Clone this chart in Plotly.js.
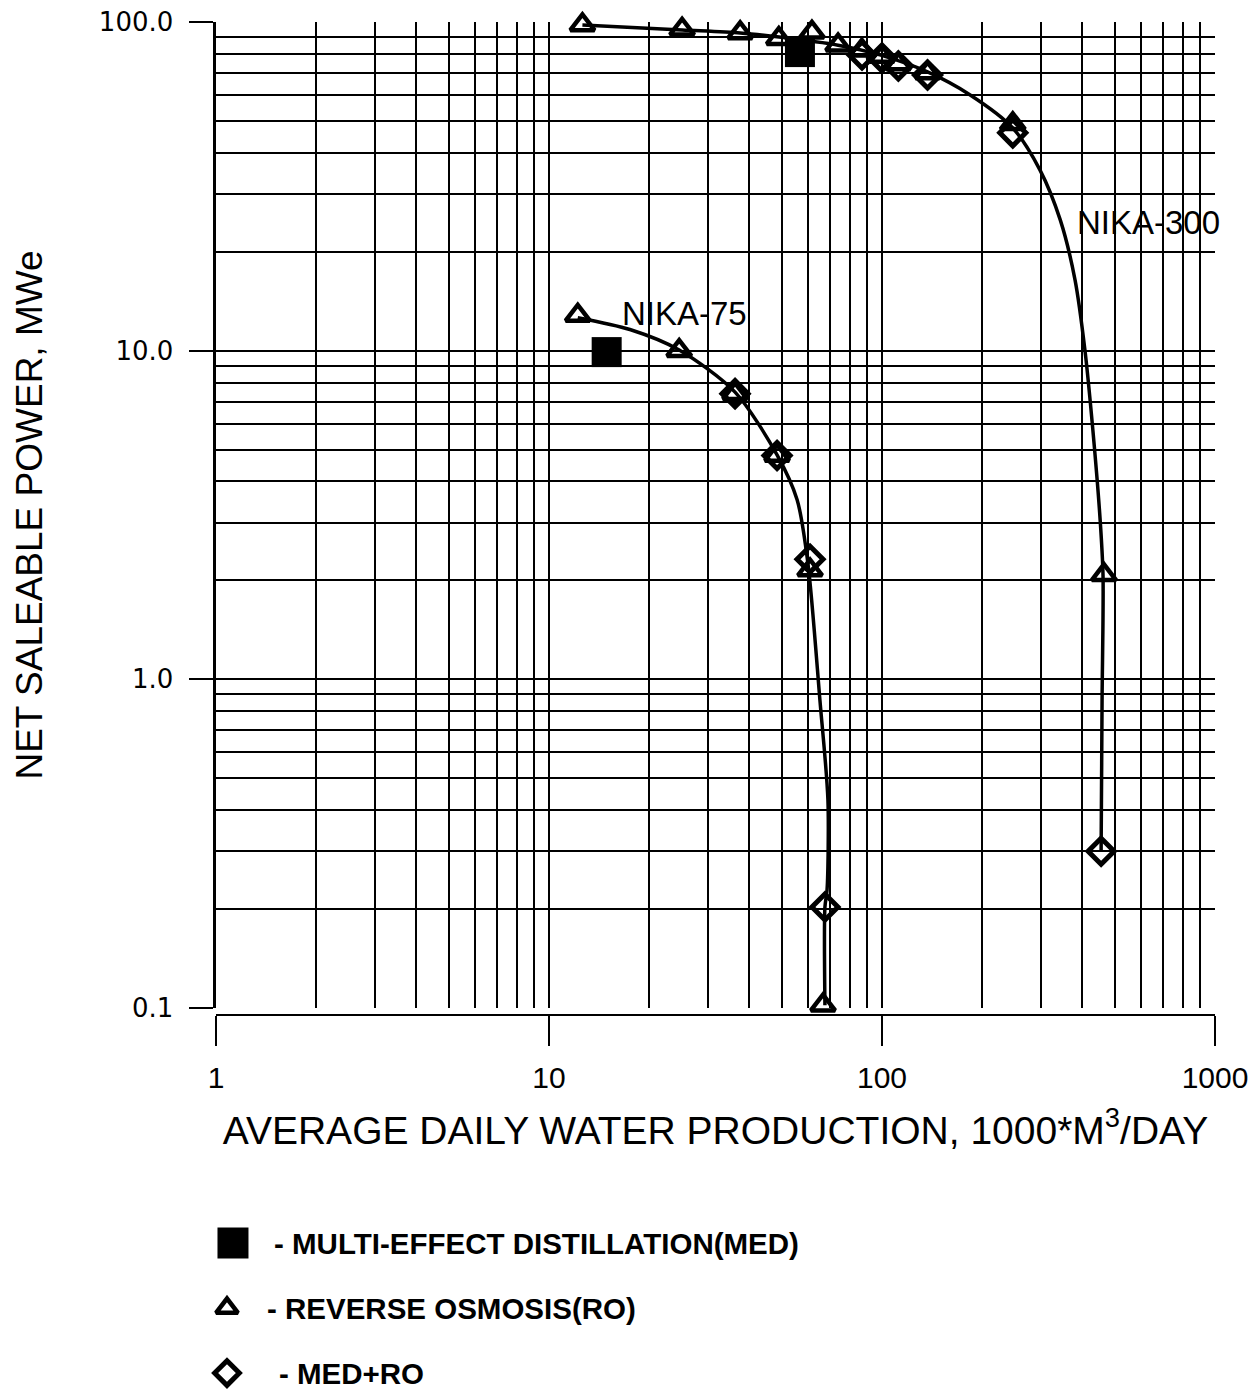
<!DOCTYPE html>
<html>
<head>
<meta charset="utf-8">
<script src="https://cdn.plot.ly/plotly-3.0.1.min.js"></script>
<style>html,body{margin:0;padding:0;background:#fff;}#chart{width:1254px;height:1397px;}</style>
</head>
<body>
<div id="chart"></div>
<script>
// ---- Data ----
// NIKA-300
const ro300X = [12.6, 25.1, 37.5, 49.0, 61.6, 73.8, 87.0, 100, 112, 137, 247, 464];
const ro300Y = [98, 95, 92.6, 89, 93, 85, 82, 78.5, 74.5, 70, 49, 2.08];
const med300X = [56.7];
const med300Y = [81];
const medro300X = [87.1, 100, 112, 137, 247, 455];
const medro300Y = [79.4, 77.7, 73.5, 69, 46, 0.30];
const curve300X = [12.6, 25.1, 37.5, 49.1, 73.8, 98.6, 137, 184, 247, 298, 343, 380, 407, 430, 452, 461, 458, 455];
const curve300Y = [98, 94.6, 92.6, 90, 85, 79.4, 70.5, 60, 47.6, 35.5, 25, 16.4, 10, 5.7, 3.05, 2.08, 0.86, 0.30];
// NIKA-75
const ro75X = [12.2, 24.6, 36.2, 48.4, 60.8, 66.5];
const ro75Y = [12.8, 10.0, 7.4, 4.8, 2.15, 0.102];
const med75X = [14.9];
const med75Y = [9.9];
const medro75X = [36.2, 48.4, 60.8, 67.4];
const medro75Y = [7.4, 4.8, 2.32, 0.203];
const curve75X = [12.2, 17.5, 24.6, 36.2, 48.4, 55.6, 59.9, 65.1, 68.8, 68.4, 67.4, 67.4];
const curve75Y = [12.6, 11.6, 10.05, 7.48, 4.82, 3.52, 2.26, 0.865, 0.43, 0.229, 0.203, 0.102];

// Axis ticks
const xTickVals = [1, 10, 100, 1000];
const xTickText = ['1', '10', '100', '1000'];
const yTickVals = [0.1, 1, 10, 100];
const yTickText = ['0.1', '1.0', '10.0', '100.0'];
const xMinor = [];
[1, 10, 100].forEach(d => { for (let k = 2; k <= 9; k++) xMinor.push(k * d); });
const yMinor = [];
[0.1, 1, 10].forEach(d => { for (let k = 2; k <= 9; k++) yMinor.push(+(k * d).toFixed(2)); });

// Legend
const legendNames = ['- MULTI-EFFECT DISTILLATION(MED)', '- REVERSE OSMOSIS(RO)', '- MED+RO'];
const legendSymbols = ['square', 'triangle-up', 'diamond'];

// Curve labels
const curveLabels = ['NIKA-75', 'NIKA-300'];
const curveLabelX = [16.3, 380];
const curveLabelY = [13.0, 24.6];

const BLACK = '#000000';
const CLEAR = 'rgba(255,255,255,0)';
const NARROW = 'Liberation Sans Narrow, Arial Narrow, Liberation Sans, Arial, sans-serif';
const tri = {symbol: 'triangle-up', size: 21, color: CLEAR, opacity: 1, line: {width: 4.5, color: BLACK}};
const dia = {symbol: 'diamond', size: 20, color: CLEAR, opacity: 1, line: {width: 5, color: BLACK}};
const sq = {symbol: 'square', size: 30, color: BLACK, opacity: 1, line: {width: 0}};

const traces = [
  {x: curve300X, y: curve300Y, mode: 'lines', line: {color: BLACK, width: 3.5, shape: 'spline', smoothing: 0.8}, hoverinfo: 'skip'},
  {x: curve75X, y: curve75Y, mode: 'lines', line: {color: BLACK, width: 3.5, shape: 'spline', smoothing: 0.8}, hoverinfo: 'skip'},
  {x: ro300X, y: ro300Y, mode: 'markers', marker: tri, cliponaxis: false},
  {x: ro75X, y: ro75Y, mode: 'markers', marker: tri, cliponaxis: false},
  {x: medro300X, y: medro300Y, mode: 'markers', marker: dia, cliponaxis: false},
  {x: medro75X, y: medro75Y, mode: 'markers', marker: dia, cliponaxis: false},
  {x: med300X, y: med300Y, mode: 'markers', marker: sq, cliponaxis: false},
  {x: med75X, y: med75Y, mode: 'markers', marker: sq, cliponaxis: false},
  // legend symbols
  {x: [0.002, -0.004, -0.004], y: legendNames, xaxis: 'x2', yaxis: 'y2', mode: 'markers', cliponaxis: false,
   marker: {symbol: legendSymbols, size: [31, 19, 19], color: [BLACK, CLEAR, CLEAR], opacity: 1,
            line: {width: [0, 4.5, 5], color: BLACK}}}
];

const annotations = [];
curveLabels.forEach((t, i) => annotations.push({
  text: t, x: Math.log10(curveLabelX[i]), y: Math.log10(curveLabelY[i]), xref: 'x', yref: 'y',
  xanchor: 'left', yanchor: 'middle', showarrow: false,
  font: {family: 'Liberation Sans, Arial, sans-serif', size: 33, color: BLACK}
}));
const legendTextX = [0.056, 0.049, 0.061];
legendNames.forEach((t, i) => annotations.push({
  text: t, x: legendTextX[i], y: t, xref: 'paper', yref: 'y2', xanchor: 'left', yanchor: 'middle', showarrow: false,
  font: {family: NARROW, size: 29.5, color: BLACK, weight: 'bold'}
}));

const layout = {
  width: 1254, height: 1397,
  margin: {l: 216, r: 39, t: 22, b: 10, pad: 0},
  paper_bgcolor: '#fff', plot_bgcolor: '#fff',
  showlegend: false,
  font: {family: 'Liberation Sans, Arial, sans-serif', color: BLACK},
  xaxis: {
    type: 'log', range: [0, 3], anchor: 'free', position: 0.27253,
    tickmode: 'array', tickvals: xTickVals, ticktext: xTickText,
    ticks: 'outside', ticklen: 30, tickwidth: 2, tickcolor: BLACK,
    ticklabelstandoff: 6,
    showline: true, linecolor: BLACK, linewidth: 2.5,
    showgrid: true, gridcolor: BLACK, gridwidth: 2,
    minor: {tickmode: 'array', tickvals: xMinor, showgrid: true, gridcolor: BLACK, gridwidth: 2, ticks: ''},
    tickfont: {family: NARROW, size: 30, color: BLACK},
    title: {text: 'AVERAGE DAILY WATER PRODUCTION, 1000*M<sup>3</sup>/DAY', standoff: 22,
            font: {family: NARROW, size: 39, color: BLACK}},
    zeroline: false, fixedrange: true
  },
  yaxis: {
    type: 'log', range: [-1, 2], domain: [0.27766, 1],
    tickmode: 'array', tickvals: yTickVals, ticktext: yTickText,
    ticks: 'outside', ticklen: 24, tickwidth: 2, tickcolor: BLACK,
    ticklabelstandoff: 10,
    showline: true, linecolor: BLACK, linewidth: 3.5,
    showgrid: true, gridcolor: BLACK, gridwidth: 2,
    minor: {tickmode: 'array', tickvals: yMinor, showgrid: true, gridcolor: BLACK, gridwidth: 2, ticks: ''},
    tickfont: {family: 'DejaVu Sans, sans-serif', size: 26, color: BLACK},
    title: {text: 'NET SALEABLE POWER, MWe', standoff: 46,
            font: {family: NARROW, size: 37, color: BLACK}},
    zeroline: false, fixedrange: true
  },
  xaxis2: {domain: [0, 1], range: [-0.015, 0.985], anchor: 'y2', visible: false, fixedrange: true},
  yaxis2: {domain: [0, 0.1293], range: [2.215, -0.5], type: 'category', categoryorder: 'array',
           categoryarray: legendNames, anchor: 'x2', visible: false, fixedrange: true},
  annotations: annotations
};

Plotly.newPlot('chart', traces, layout, {staticPlot: true, displayModeBar: false});
</script>
</body>
</html>
